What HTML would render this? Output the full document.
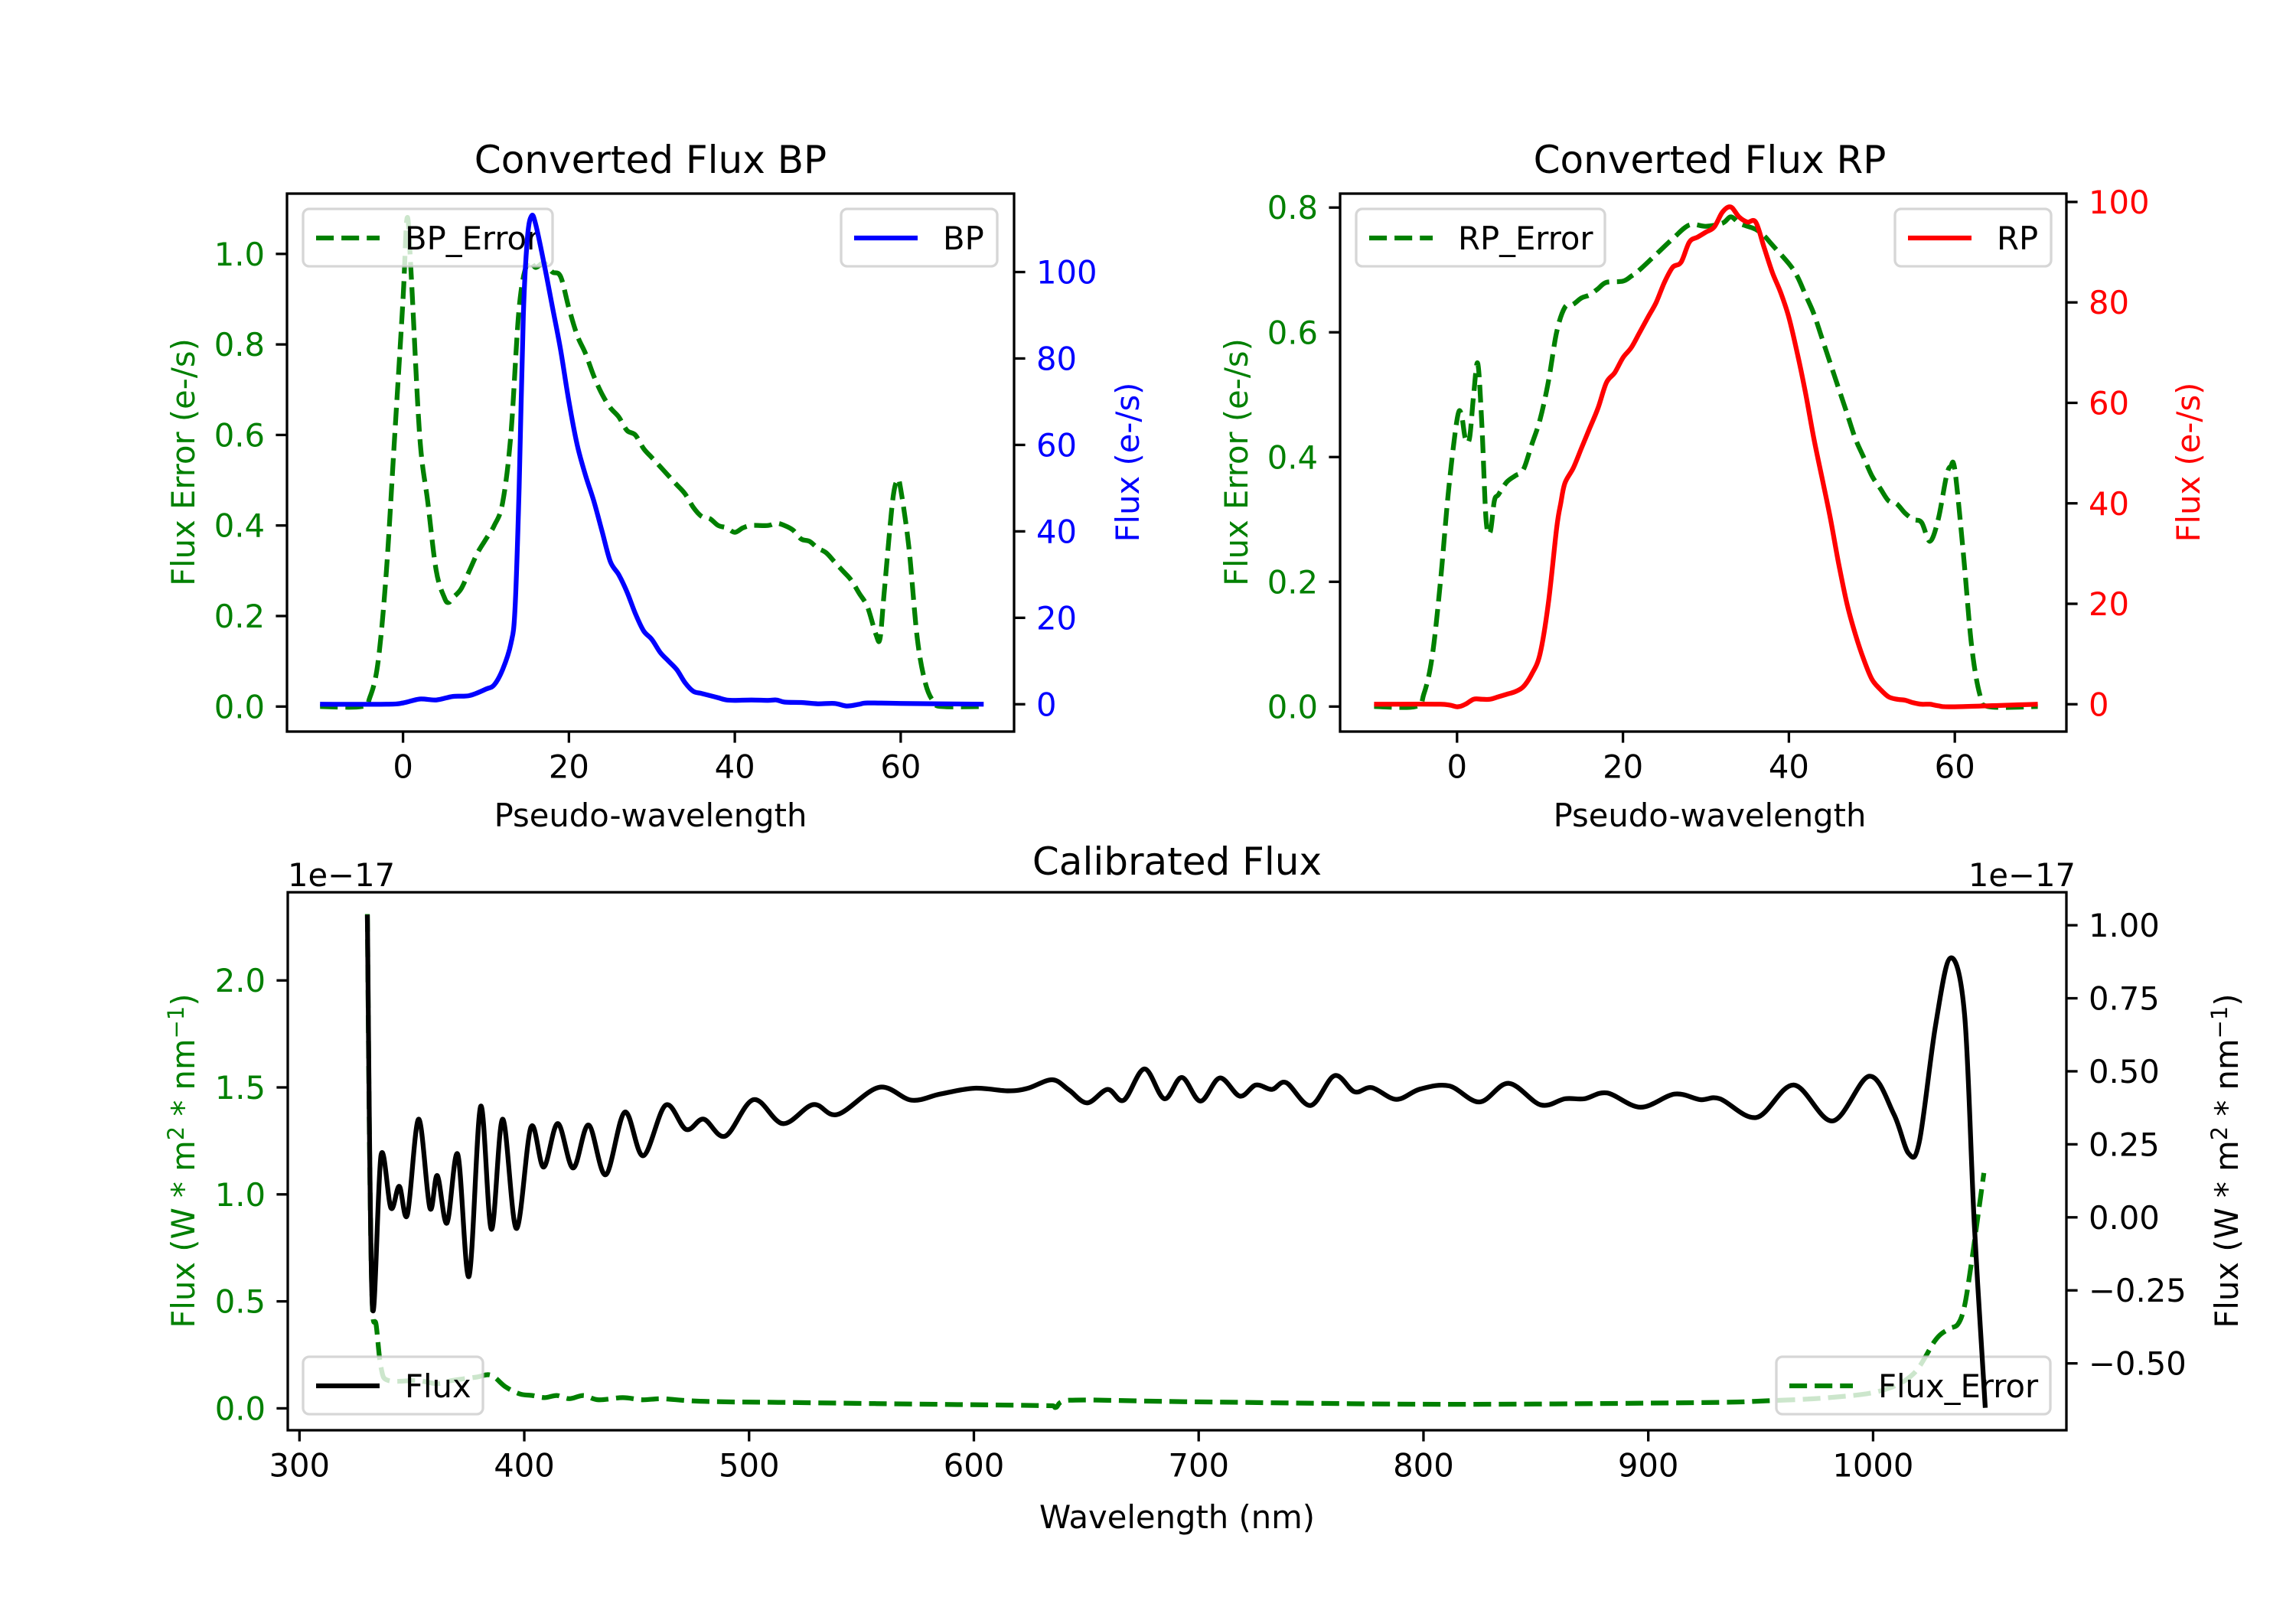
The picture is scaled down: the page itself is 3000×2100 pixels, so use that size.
<!DOCTYPE html>
<html><head><meta charset="utf-8"><style>
html,body{margin:0;padding:0;background:#fff}
svg{display:block}
text{font-family:"DejaVu Sans","Liberation Sans",sans-serif}
</style></head><body>
<svg id="fig" width="3000" height="2100" viewBox="0 0 3000 2100" xmlns="http://www.w3.org/2000/svg">
<rect width="3000" height="2100" fill="#fff"/>
<defs>
<clipPath id="cBP"><rect x="375" y="253" width="950" height="703"/></clipPath>
<clipPath id="cRP"><rect x="1751" y="253" width="949" height="703"/></clipPath>
<clipPath id="cCal"><rect x="376" y="1166" width="2324" height="703"/></clipPath>
</defs>
<g id="root"></g>
</svg>
<script>
// ---------- data ----------
const bpErrX = [-10,-5,-4,-3,-2,-1,0,0.5,1,2,3,4,5,5.5,6,7,8,9,10,11,12,13,14,15,16,17,18,19,20,21,22,23,24,25,26,27,28,29,30,31,32,33,34,35,36,37,38,39,40,41,42,44,45,46,47,48,49,50,51,52,53,54,55,56,57,57.5,58,59,59.6,60,61,62,63,64,65,70];
const bpErrY = [0,0,0.02,0.1,0.3,0.6,0.9,1.08,0.95,0.6,0.45,0.3,0.24,0.23,0.24,0.26,0.3,0.34,0.37,0.4,0.45,0.6,0.88,0.98,0.97,0.98,0.96,0.95,0.88,0.82,0.78,0.73,0.69,0.66,0.64,0.61,0.6,0.57,0.55,0.53,0.51,0.49,0.47,0.44,0.42,0.415,0.40,0.395,0.385,0.395,0.40,0.40,0.405,0.40,0.39,0.37,0.365,0.35,0.34,0.32,0.30,0.28,0.25,0.22,0.16,0.15,0.25,0.45,0.5,0.48,0.35,0.15,0.05,0.01,0,0];
const bpX = [-10,-2,0,2,4,6,8,10,11,12,13,13.5,14,14.5,15,15.5,16,17,18,19,20,21,22,23,24,25,26,27,28,29,30,31,32,33,34,35,36,37,38,39,40,42,44,45,46,48,50,52,53.5,55,56,60,70];
const bpY = [0,0,0.3,1.2,1,1.8,2,3.5,4.5,8,14,22,50,90,108,113,111,102,92,82,70,60,53,47,40,33,30,26,21,17,15,12,10,8,5,3,2.5,2,1.5,1,0.9,1,0.9,1,0.5,0.4,0.1,0.2,-0.4,0,0.3,0.2,0];
const rpErrX = [-10,-5,-4,-3,-2,-1,0,0.5,1,1.5,2,2.5,3,3.5,4,4.5,5,6,7,8,9,10,11,12,13,14,15,16,17,18,20,21,22,24,26,28,30,32,33,34,35,36,37,38,40,41,42,43,44,45,46,47,48,49,50,51,52,53,54,55,56,57,58,59,59.5,60,61,62,63,64,70];
const rpErrY = [0,0,0.02,0.08,0.2,0.35,0.46,0.47,0.43,0.43,0.5,0.55,0.45,0.3,0.28,0.33,0.34,0.36,0.37,0.38,0.42,0.46,0.52,0.6,0.64,0.645,0.655,0.66,0.67,0.68,0.682,0.69,0.70,0.725,0.75,0.772,0.77,0.775,0.785,0.775,0.77,0.765,0.755,0.74,0.71,0.69,0.66,0.63,0.59,0.55,0.51,0.47,0.43,0.4,0.37,0.35,0.33,0.325,0.31,0.30,0.295,0.265,0.3,0.37,0.385,0.38,0.25,0.1,0.02,0,0];
const rpX = [-10,-2,0,1,2,3,4,5,6,7,8,9,10,11,12,12.5,13,14,15,16,17,18,19,20,21,22,23,24,25,26,27,28,29,30,31,32,33,34,35,36,37,38,39,40,41,42,43,44,45,46,47,48,49,50,51,52,53,54,55,56,57,58,60,70];
const rpY = [0,0,-0.5,0,1,1,1,1.5,2,2.5,3.5,6,10,20,35,40,44,47,51,55,59,64,66,69,71,74,77,80,84,87,88,92,93,94,95,98,99,97,96,96,91,86,82,77,70,62,53,45,37,28,20,14,9,5,3,1.5,1,0.8,0.3,0,0,-0.3,-0.5,0];
const calX = [330.2,332.4,336.3,340.7,344.4,348.0,353.0,358.0,361.3,365.6,370.4,375.4,380.6,385.4,390.4,396.5,403.0,408.6,414.9,421.7,428.6,436.2,444.7,452.9,462.9,472.0,479.8,489.4,502.0,515.0,528.5,539.3,557.8,572.3,585.0,600.1,615.3,624.0,634.9,642.3,650.4,659.5,666.7,675.9,684.7,692.5,700.8,709.4,718.3,725.4,732.6,738.9,749.8,760.4,769.3,777.0,787.9,798.5,811.4,824.9,837.8,852.1,863.0,871.6,881.6,896.5,911.7,923.2,931.8,948.1,964.7,982.0,998.3,1009.2,1015.8,1020.6,1027.8,1034.4,1040.7,1045.0,1049.9];
const calY = [1.036,-0.30,0.213,0.032,0.106,0.009,0.336,0.032,0.143,-0.02,0.216,-0.202,0.380,-0.041,0.336,-0.038,0.309,0.172,0.321,0.169,0.316,0.146,0.360,0.211,0.384,0.301,0.336,0.278,0.403,0.321,0.386,0.352,0.445,0.401,0.422,0.442,0.433,0.442,0.471,0.436,0.392,0.438,0.401,0.508,0.406,0.479,0.398,0.477,0.415,0.453,0.438,0.461,0.383,0.485,0.430,0.444,0.404,0.439,0.450,0.395,0.459,0.385,0.406,0.406,0.426,0.377,0.422,0.403,0.406,0.342,0.453,0.330,0.483,0.354,0.219,0.260,0.658,0.888,0.693,-0.020,-0.652];
const calErrX = [330.2,331.2,332.4,334.1,336.3,339.6,352.6,361.3,367.8,378.7,385.2,391.7,398.2,403.6,409,414.5,420,426.4,433,443.8,452.5,461.2,474.2,491.6,513.3,556.7,635,636.6,642.3,694,808.6,923,952,980.5,1003.4,1017.8,1027.8,1033.5,1037.8,1040.7,1043.6,1046.4,1049.3];
const calErrY = [2.31,1.2,0.48,0.39,0.19,0.13,0.13,0.115,0.13,0.146,0.155,0.10,0.067,0.06,0.05,0.06,0.045,0.06,0.04,0.05,0.04,0.045,0.035,0.03,0.028,0.022,0.012,0.005,0.038,0.031,0.019,0.027,0.035,0.05,0.082,0.16,0.32,0.37,0.394,0.48,0.67,0.88,1.10];
const pseudoTicks = [0,20,40,60];
const bpErrTicks = [0,0.2,0.4,0.6,0.8,1.0];
const bpTicks = [0,20,40,60,80,100];
const rpErrTicks = [0,0.2,0.4,0.6,0.8];
const rpTicks = [0,20,40,60,80,100];
const wlTicks = [300,400,500,600,700,800,900,1000];
const calErrTicks = [0,0.5,1.0,1.5,2.0];
const calTicks = [-0.5,-0.25,0,0.25,0.5,0.75,1.0];

// ---------- axis functions ----------
const bpXs = v => 526.6 + 10.838*v;
const bpYL = v => 923.3 - 591.5*v;
const bpYR = v => 920.3 - 5.648*v;
const rpXs = v => 1903.8 + 10.84*v;
const rpYL = v => 923.3 - 815.1*v;
const rpYR = v => 920.3 - 6.564*v;
const calXs = v => 391.3 + 2.9373*(v-300);
const calYL = v => 1840.4 - 279.6*v;
const calYR = v => 1590.8 - 381.7*v;

const NS = "http://www.w3.org/2000/svg";
const root = document.getElementById('root');
function el(tag, attrs, parent, txt){
  const e = document.createElementNS(NS, tag);
  for (const k in attrs) e.setAttribute(k, attrs[k]);
  if (txt !== undefined) e.textContent = txt;
  (parent||root).appendChild(e);
  return e;
}
function pathD(xs, ys, fx, fy){
  const P = xs.map((x,i)=>[fx(x), fy(ys[i])]);
  let d = 'M'+P[0][0].toFixed(1)+','+P[0][1].toFixed(1);
  for (let i=0;i<P.length-1;i++){
    const p0=P[Math.max(0,i-1)], p1=P[i], p2=P[i+1], p3=P[Math.min(P.length-1,i+2)];
    const t=0.5/3;
    const c1=[p1[0]+(p2[0]-p0[0])*t, p1[1]+(p2[1]-p0[1])*t];
    const c2=[p2[0]-(p3[0]-p1[0])*t, p2[1]-(p3[1]-p1[1])*t];
    c1[0]=Math.min(Math.max(c1[0],p1[0]),p2[0]); c2[0]=Math.min(Math.max(c2[0],p1[0]),p2[0]);
    d += ' C'+c1[0].toFixed(1)+','+c1[1].toFixed(1)+' '+c2[0].toFixed(1)+','+c2[1].toFixed(1)+' '+p2[0].toFixed(1)+','+p2[1].toFixed(1);
  }
  return d;
}
const FS = 41.7;
function ticksX(vals, fx, y0, labels){
  vals.forEach((v,i)=>{
    const x=fx(v);
    const t = el('line',{x1:x,x2:x,y1:y0,y2:y0+14.6,stroke:'#000','stroke-width':3.3});
    
    
    const tx = el('text',{x:x,y:y0+29+FS*0.76,'font-size':FS,'text-anchor':'middle',fill:'#000'},root,labels?labels[i]:String(v));
    
    
  });
}
function ticksY(vals, fy, x0, side, color, fmt){
  vals.forEach(v=>{
    const y=fy(v);
    const x2 = side==='left'? x0-14.6 : x0+14.6;
    const t = el('line',{x1:x0,x2:x2,y1:y,y2:y,stroke:'#000','stroke-width':3.3});
    
    
    const tx = el('text',{x: side==='left'? x0-29 : x0+29, y:y+FS*0.36,'font-size':FS,'text-anchor': side==='left'?'end':'start',fill:color},root,fmt(v));
    
    
  });
}
function frame(x,y,w,h,name){
  const r = el('rect',{x:x,y:y,width:w,height:h,fill:'none',stroke:'#000','stroke-width':3.3});
  
  
}
function line(xs,ys,fx,fy,color,dashed,clip,name){
  const p = el('path',{d:pathD(xs,ys,fx,fy),fill:'none',stroke:color,'stroke-width':6.25,'stroke-linejoin':'round','clip-path':'url(#'+clip+')'});
  if (dashed) p.setAttribute('stroke-dasharray','23.1 10');
  
  
}
function legend(x,y,w,color,dashed,label,name){
  const g = el('g',{});
  
  
  el('rect',{x:x,y:y,width:w,height:75,rx:8,fill:'#fff','fill-opacity':0.8,stroke:'#cccccc','stroke-opacity':0.8,'stroke-width':3.3},g);
  const l = el('line',{x1:x+17,x2:x+100,y1:y+38,y2:y+38,stroke:color,'stroke-width':6.25},g);
  if (dashed) l.setAttribute('stroke-dasharray','23.1 10');
  el('text',{x:x+133,y:y+38+FS*0.36,'font-size':FS,fill:'#000'},g,label);
}
function text(x,y,s,opts,name){
  const a = Object.assign({x:x,y:y,'font-size':FS,'text-anchor':'middle',fill:'#000'},opts||{});
  const t = el('text',a,root,s);
  
  
  return t;
}
const f1 = v=>v.toFixed(1);
const f0 = v=>String(v);
const f2 = v=>(v<0?'\u2212':'')+Math.abs(v).toFixed(2);

// ---------- BP panel ----------
line(bpErrX,bpErrY,bpXs,bpYL,'#008000',true,'cBP','bp-error-line');
legend(396,273,326,'#008000',true,'BP_Error','bp-error-legend');
line(bpX,bpY,bpXs,bpYR,'#0000ff',false,'cBP','bp-flux-line');
legend(1099,273,204,'#0000ff',false,'BP','bp-legend');
frame(375,253,950,703,'bp-axes-frame');
ticksX(pseudoTicks,bpXs,956);
ticksY(bpErrTicks,bpYL,375,'left','#008000',f1);
ticksY(bpTicks,bpYR,1325,'right','#0000ff',f0);
text(850,226,'Converted Flux BP',{'font-size':50},'bp-title');
text(850,1080,'Pseudo-wavelength',{},'bp-x-axis-title');
text(0,0,'Flux Error (e-/s)',{fill:'#008000',transform:'translate(254,604) rotate(-90)'},'bp-left-y-axis-title');
text(0,0,'Flux (e-/s)',{fill:'#0000ff',transform:'translate(1488,604) rotate(-90)'},'bp-right-y-axis-title');

// ---------- RP panel ----------
line(rpErrX,rpErrY,rpXs,rpYL,'#008000',true,'cRP','rp-error-line');
legend(1772,273,325,'#008000',true,'RP_Error','rp-error-legend');
line(rpX,rpY,rpXs,rpYR,'#ff0000',false,'cRP','rp-flux-line');
legend(2476,273,204,'#ff0000',false,'RP','rp-legend');
frame(1751,253,949,703,'rp-axes-frame');
ticksX(pseudoTicks,rpXs,956);
ticksY(rpErrTicks,rpYL,1751,'left','#008000',f1);
ticksY(rpTicks,rpYR,2700,'right','#ff0000',f0);
text(2234,226,'Converted Flux RP',{'font-size':50},'rp-title');
text(2234,1080,'Pseudo-wavelength',{},'rp-x-axis-title');
text(0,0,'Flux Error (e-/s)',{fill:'#008000',transform:'translate(1630,604) rotate(-90)'},'rp-left-y-axis-title');
text(0,0,'Flux (e-/s)',{fill:'#ff0000',transform:'translate(2874,604) rotate(-90)'},'rp-right-y-axis-title');

// ---------- Calibrated panel ----------
line(calErrX,calErrY,calXs,calYL,'#008000',true,'cCal','cal-error-line');
legend(2321,1773,358,'#008000',true,'Flux_Error','cal-error-legend');
line(calX,calY,calXs,calYR,'#000000',false,'cCal','cal-flux-line');
legend(396,1773,235,'#000',false,'Flux','cal-flux-legend');
frame(376,1166,2324,703,'cal-axes-frame');
ticksX(wlTicks,calXs,1869);
ticksY(calErrTicks,calYL,376,'left','#008000',f1);
ticksY(calTicks,calYR,2700,'right','#000',f2);
text(1538,1143,'Calibrated Flux',{'font-size':50},'cal-title');
text(376,1158,'1e\u221217',{'text-anchor':'start'},'cal-left-offset');
text(2712,1158,'1e\u221217',{'text-anchor':'end'},'cal-right-offset');
text(1538,1997,'Wavelength (nm)',{},'cal-x-axis-title');
const lt = text(0,0,'',{fill:'#008000',transform:'translate(254,1517) rotate(-90)'},'cal-left-y-axis-title');
lt.innerHTML = 'Flux (W * m<tspan dy="-14" font-size="29">2</tspan><tspan dy="14"> * nm</tspan><tspan dy="-14" font-size="29">\u22121</tspan><tspan dy="14">)</tspan>';
const rt = text(0,0,'',{fill:'#000',transform:'translate(2924,1517) rotate(-90)'},'cal-right-y-axis-title');
rt.innerHTML = 'Flux (W * m<tspan dy="-14" font-size="29">2</tspan><tspan dy="14"> * nm</tspan><tspan dy="-14" font-size="29">\u22121</tspan><tspan dy="14">)</tspan>';
</script>
</body></html>
